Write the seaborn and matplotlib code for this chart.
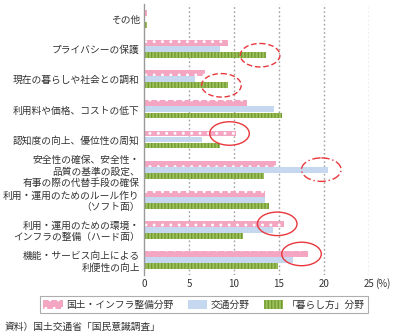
import matplotlib
matplotlib.use("Agg")
import matplotlib.pyplot as plt
from matplotlib.patches import Ellipse
import pandas as pd
import seaborn as sns

categories = [
    "その他",
    "プライバシーの保護",
    "現在の暮らしや社会との調和",
    "利用料や価格、コストの低下",
    "認知度の向上、優位性の周知",
    "安全性の確保、安全性・\n品質の基準の設定、\n有事の際の代替手段の確保",
    "利用・運用のためのルール作り\n（ソフト面）",
    "利用・運用のための環境・\nインフラの整備（ハード面）",
    "機能・サービス向上による\n利便性の向上",
]
series = ["国土・インフラ整備分野", "交通分野", "「暮らし方」分野"]
infra = [0.3, 9.3, 6.8, 11.4, 10.2, 14.7, 13.4, 15.5, 18.2]
traffic = [0.1, 8.4, 5.7, 14.4, 6.5, 20.4, 13.4, 14.3, 16.6]
living = [0.3, 13.6, 9.3, 15.3, 8.5, 13.3, 13.9, 11.0, 14.9]
xticks = [0, 5, 10, 15, 20, 25]

# circled bars: (category index, series index, line style)
highlights = [
    (1, 2, (0, (4, 2))),
    (2, 2, (0, (4, 2))),
    (4, 0, "-"),
    (5, 1, (0, (6, 2, 1, 2))),
    (7, 0, "-"),
    (8, 0, "-"),
]

FS = 7.0
TXT = "#333333"

sns.set_theme(style="white")
plt.rcParams["font.family"] = ["Noto Sans CJK JP", "DejaVu Sans"]
plt.rcParams["hatch.linewidth"] = 0.9

values = [infra, traffic, living]
df = pd.DataFrame({
    "category": [c for _ in series for c in categories],
    "series": [s for s in series for _ in categories],
    "value": [v for vals in values for v in vals],
})

colors = ["#F3A5C2", "#C6D8EF", "#9DBE5C"]
hatch_colors = ["white", "#C6D8EF", "#6F9A2E"]
hatches = ["..", None, "|||||"]

fig = plt.figure(figsize=(3.97, 3.35), dpi=100)
ax = fig.add_axes([0.3627, 0.179, 0.5668, 0.809])

sns.barplot(data=df, y="category", x="value", hue="series", orient="h",
            palette=colors, width=0.6, dodge=True, legend=False, ax=ax,
            saturation=1, gap=0.03)

for cont, hc, h in zip(ax.containers, hatch_colors, hatches):
    for p in cont.patches:
        p.set_edgecolor(hc)
        p.set_linewidth(0)
        if h:
            p.set_hatch(h)

ax.set_xlim(0, 25)
ax.set_ylim(len(categories) - 0.5, -0.5)
ax.set_xticks(xticks)
ax.set_xticklabels([str(t) for t in xticks])
for x in xticks[1:]:
    ax.axvline(x, color="#A0A0A0", lw=1.0, ls=(0, (1.2, 1.8)), zorder=0)

for s in ["top", "right", "bottom"]:
    ax.spines[s].set_visible(False)
ax.spines["left"].set_color("#9A9A9A")
ax.spines["left"].set_linewidth(1.0)
ax.tick_params(axis="both", length=0, labelsize=FS, colors=TXT)
ax.tick_params(axis="x", pad=2.5)
ax.tick_params(axis="y", pad=3)
for lbl in ax.get_yticklabels():
    lbl.set_multialignment("right")
    lbl.set_linespacing(1.2)
ax.set_xlabel("")
ax.set_ylabel("")

# unit next to the last x tick label
ax.annotate("(%)", xy=(25, 0), xycoords=ax.get_xaxis_transform(),
            xytext=(4.6, -2.5), textcoords="offset points",
            ha="left", va="top", fontsize=FS, color=TXT)

offsets = [-0.2, 0.0, 0.2]
for ci, si, ls in highlights:
    val = values[si][ci]
    e = Ellipse((val - 0.7, ci + offsets[si]), width=4.4, height=0.78,
                fill=False, edgecolor="#E8383D", lw=1.0, ls=ls, zorder=5,
                clip_on=False)
    ax.add_patch(e)

leg = fig.legend(handles=list(ax.containers), labels=series, ncol=3,
                 loc="center", bbox_to_anchor=(0.514, 0.09), frameon=True,
                 fancybox=False, edgecolor="#9A9A9A", fontsize=FS,
                 handlelength=2.0, handleheight=0.9, columnspacing=1.4,
                 handletextpad=0.4, borderpad=0.35, borderaxespad=0)
leg.get_frame().set_linewidth(0.8)
for t in leg.get_texts():
    t.set_color(TXT)

fig.text(0.012, 0.024, "資料）国土交通省「国民意識調査」", fontsize=FS,
         color=TXT, ha="left", va="center")

fig.savefig("out.png", dpi=100)
